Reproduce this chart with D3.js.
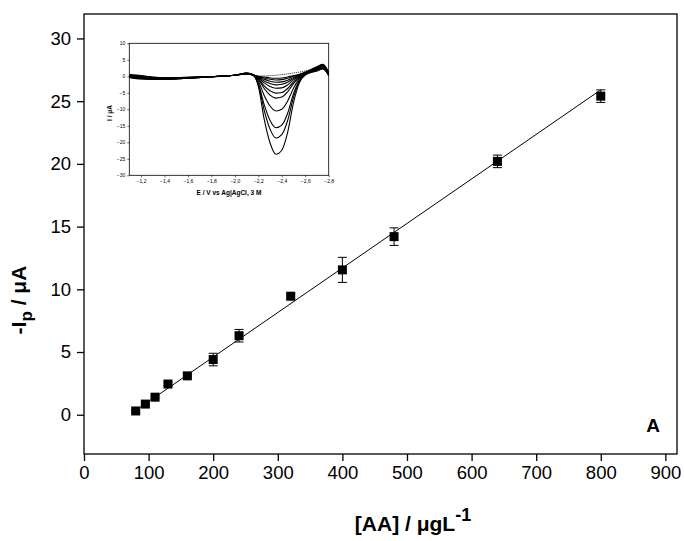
<!DOCTYPE html>
<html>
<head>
<meta charset="utf-8">
<script src="https://cdn.jsdelivr.net/npm/d3@7"></script>
<style>
  body { margin: 0; background: #fff; }
  text { font-family: Arial, "Liberation Sans", sans-serif; }
</style>
</head>
<body>
<div id="chart"></div>
<script>
// calibration data: concentration, peak current and error
var conc = [80, 95, 110, 130, 160, 200, 240, 320, 400, 480, 640, 800];
var ip = [0.3, 0.85, 1.4, 2.45, 3.1, 4.4, 6.3, 9.45, 11.55, 14.2, 20.2, 25.4];
var ipErr = [0.1, 0.1, 0.1, 0.15, 0.1, 0.5, 0.5, 0.2, 1.0, 0.7, 0.5, 0.5];
var fitX = [80, 800];
var fitY = [0.34, 25.9];
var xTicks = [0, 100, 200, 300, 400, 500, 600, 700, 800, 900];
var yTicks = [0, 5, 10, 15, 20, 25, 30];

// inset voltammograms (potential grid shared by all scans)
var insetE = [-1.1, -1.2, -1.3, -1.4, -1.6, -1.8, -2.0, -2.1, -2.15, -2.2, -2.25, -2.3, -2.35, -2.4, -2.45, -2.5, -2.55, -2.6, -2.7, -2.75, -2.8];
var scans = [
  [0.5, 0.2, -0.2, -0.4, -0.3, -0.1, 0.3, 1.0, 0.6, -3.0, -13.0, -20.2, -23.6, -22.4, -17.0, -8.0, -2.0, 0.4, 1.6, 2.2, 0.2],
  [0.4, 0.1, -0.3, -0.5, -0.3, -0.1, 0.3, 1.0, 0.5, -2.5, -10.3, -16.0, -18.7, -17.7, -13.4, -6.4, -1.5, 0.5, 1.8, 2.4, 0.3],
  [0.3, 0.0, -0.4, -0.6, -0.4, -0.1, 0.3, 0.9, 0.5, -2.1, -8.6, -13.4, -15.6, -14.8, -11.2, -5.3, -1.2, 0.6, 2.0, 2.6, 0.4],
  [0.2, -0.1, -0.5, -0.7, -0.4, -0.1, 0.3, 0.9, 0.5, -1.4, -5.8, -9.0, -10.5, -10.0, -7.5, -3.6, -0.7, 0.7, 2.1, 2.8, 0.5],
  [0.1, -0.2, -0.6, -0.8, -0.5, -0.1, 0.3, 0.9, 0.5, -0.9, -3.7, -5.7, -6.6, -6.3, -4.7, -2.2, -0.3, 0.8, 2.3, 3.0, 0.6],
  [0.0, -0.3, -0.7, -0.8, -0.5, -0.1, 0.3, 0.8, 0.5, -0.7, -2.9, -4.4, -5.1, -4.9, -3.7, -1.7, -0.1, 0.9, 2.4, 3.1, 0.7],
  [0.0, -0.4, -0.7, -0.9, -0.5, -0.1, 0.3, 0.8, 0.5, -0.5, -2.0, -3.1, -3.6, -3.5, -2.6, -1.1, 0.1, 1.0, 2.5, 3.2, 0.8],
  [-0.1, -0.5, -0.8, -0.9, -0.6, -0.1, 0.3, 0.8, 0.5, -0.3, -1.4, -2.2, -2.6, -2.4, -1.8, -0.7, 0.3, 1.1, 2.6, 3.3, 0.9],
  [-0.2, -0.6, -0.8, -0.9, -0.6, -0.1, 0.3, 0.8, 0.5, -0.2, -0.9, -1.5, -1.8, -1.7, -1.2, -0.4, 0.4, 1.1, 2.7, 3.4, 1.0],
  [-0.3, -0.7, -0.9, -0.9, -0.6, -0.1, 0.3, 0.7, 0.5, -0.1, -0.5, -0.9, -1.1, -1.0, -0.6, 0.0, 0.5, 1.2, 2.8, 3.5, 1.1],
  [-0.4, -0.8, -0.9, -0.9, -0.6, -0.1, 0.3, 0.7, 0.4, 0.0, -0.2, -0.5, -0.6, -0.5, -0.2, 0.2, 0.6, 1.2, 2.9, 3.6, 1.2]
];
var blankE = [-2.15, -2.2, -2.3, -2.4, -2.5, -2.6, -2.7, -2.75, -2.8];
var blankI = [0.3, 0.1, 0.2, 0.5, 1.0, 1.6, 2.6, 3.2, 1.0];
var insetXTicks = [-1.2, -1.4, -1.6, -1.8, -2.0, -2.2, -2.4, -2.6, -2.8];
var insetYTicks = [10, 5, 0, -5, -10, -15, -20, -25, -30];

var W = 684, H = 541;
var svg = d3.select("#chart").append("svg")
    .attr("width", W)
    .attr("height", H);

// main plot area
var x = d3.scaleLinear().domain([0, 918]).range([84, 677]);
var y = d3.scaleLinear().domain([-3.13, 31.95]).range([454, 14]);

svg.append("rect")
    .attr("x", 84).attr("y", 14)
    .attr("width", 677 - 84).attr("height", 454 - 14)
    .attr("fill", "none")
    .attr("stroke", "#000")
    .attr("stroke-width", 1.3);

var xAxis = svg.append("g")
    .attr("transform", "translate(0,454)")
    .call(d3.axisBottom(x).tickValues(xTicks).tickSize(7).tickPadding(5));
var yAxis = svg.append("g")
    .attr("transform", "translate(84,0)")
    .call(d3.axisLeft(y).tickValues(yTicks).tickSize(7).tickPadding(6));
[xAxis, yAxis].forEach(function(a) {
    a.select(".domain").remove();
    a.selectAll("line").attr("stroke", "#000").attr("stroke-width", 1.3);
    a.selectAll("text")
        .attr("fill", "#000")
        .style("font-family", "Arial, 'Liberation Sans', sans-serif")
        .style("font-size", "18.5px");
});

// fit line
svg.append("line")
    .attr("x1", x(fitX[0])).attr("y1", y(fitY[0]))
    .attr("x2", x(fitX[1])).attr("y2", y(fitY[1]))
    .attr("stroke", "#000")
    .attr("stroke-width", 1);

// error bars
var pts = conc.map(function(c, i) { return { c: c, v: ip[i], e: ipErr[i] }; });
var eb = svg.append("g").selectAll("g")
    .data(pts)
    .enter().append("g")
    .attr("stroke", "#000")
    .attr("stroke-width", 1);
eb.append("line")
    .attr("x1", d => x(d.c)).attr("x2", d => x(d.c))
    .attr("y1", d => y(d.v - d.e)).attr("y2", d => y(d.v + d.e));
eb.append("line")
    .attr("x1", d => x(d.c) - 4.5).attr("x2", d => x(d.c) + 4.5)
    .attr("y1", d => y(d.v + d.e)).attr("y2", d => y(d.v + d.e));
eb.append("line")
    .attr("x1", d => x(d.c) - 4.5).attr("x2", d => x(d.c) + 4.5)
    .attr("y1", d => y(d.v - d.e)).attr("y2", d => y(d.v - d.e));

// square markers
svg.append("g").selectAll("rect")
    .data(pts)
    .enter().append("rect")
    .attr("x", d => x(d.c) - 4.5)
    .attr("y", d => y(d.v) - 4.5)
    .attr("width", 9)
    .attr("height", 9)
    .attr("fill", "#000");

// axis titles
svg.append("text")
    .attr("x", 413).attr("y", 531)
    .attr("text-anchor", "middle")
    .style("font-size", "21px")
    .style("font-weight", "bold")
    .text("[AA] / \u03BCgL")
    .append("tspan")
    .attr("dy", -10)
    .style("font-size", "18px")
    .text("-1");

var yl = svg.append("text")
    .attr("transform", "translate(26,300) rotate(-90)")
    .attr("text-anchor", "middle")
    .style("font-size", "21px")
    .style("font-weight", "bold");
yl.append("tspan").text("-I");
yl.append("tspan").attr("dy", 6).style("font-size", "17px").text("p");
yl.append("tspan").attr("dy", -6).text(" / \u03BCA");

svg.append("text")
    .attr("x", 653).attr("y", 432)
    .attr("text-anchor", "middle")
    .style("font-size", "19px")
    .style("font-weight", "bold")
    .text("A");

// inset
var ix = d3.scaleLinear().domain([-1.1, -2.8]).range([129.3, 328.7]);
var iy = d3.scaleLinear().domain([10, -30]).range([43.3, 175.3]);
var inset = svg.append("g");

inset.append("rect")
    .attr("x", 129.3).attr("y", 43.3)
    .attr("width", 328.7 - 129.3).attr("height", 175.3 - 43.3)
    .attr("fill", "#fff")
    .attr("stroke", "#000")
    .attr("stroke-width", 0.8);

var ixAxis = inset.append("g")
    .attr("transform", "translate(0,175.3)")
    .call(d3.axisBottom(ix).tickValues(insetXTicks).tickSize(2).tickPadding(2)
        .tickFormat(d => d3.format(".1f")(d).replace(".", ",")));
var iyAxis = inset.append("g")
    .attr("transform", "translate(129.3,0)")
    .call(d3.axisLeft(iy).tickValues(insetYTicks).tickSize(2).tickPadding(2));
[ixAxis, iyAxis].forEach(function(a) {
    a.select(".domain").remove();
    a.selectAll("line").attr("stroke", "#000").attr("stroke-width", 0.6);
    a.selectAll("text")
        .attr("fill", "#000")
        .style("font-family", "Arial, 'Liberation Sans', sans-serif")
        .style("font-size", "5px");
});

inset.append("clipPath").attr("id", "iclip")
    .append("rect")
    .attr("x", 129.3).attr("y", 43.3)
    .attr("width", 328.7 - 129.3).attr("height", 175.3 - 43.3);

var line = d3.line()
    .x(d => ix(d[0]))
    .y(d => iy(d[1]))
    .curve(d3.curveMonotoneX);

inset.append("g")
    .attr("clip-path", "url(#iclip)")
    .selectAll("path")
    .data(scans)
    .enter().append("path")
    .attr("d", s => line(insetE.map((e, i) => [e, s[i]])))
    .attr("fill", "none")
    .attr("stroke", "#000")
    .attr("stroke-width", 1.1);

inset.append("path")
    .attr("clip-path", "url(#iclip)")
    .attr("d", line(blankE.map((e, i) => [e, blankI[i]])))
    .attr("fill", "none")
    .attr("stroke", "#000")
    .attr("stroke-width", 0.9)
    .attr("stroke-dasharray", "1,1");

inset.append("text")
    .attr("x", 229).attr("y", 195)
    .attr("text-anchor", "middle")
    .style("font-size", "6.5px")
    .style("font-weight", "bold")
    .text("E / V vs Ag|AgCl, 3 M");

inset.append("text")
    .attr("transform", "translate(112,113) rotate(-90)")
    .attr("text-anchor", "middle")
    .style("font-size", "6.5px")
    .style("font-weight", "bold")
    .text("I / \u03BCA");
</script>
</body>
</html>
